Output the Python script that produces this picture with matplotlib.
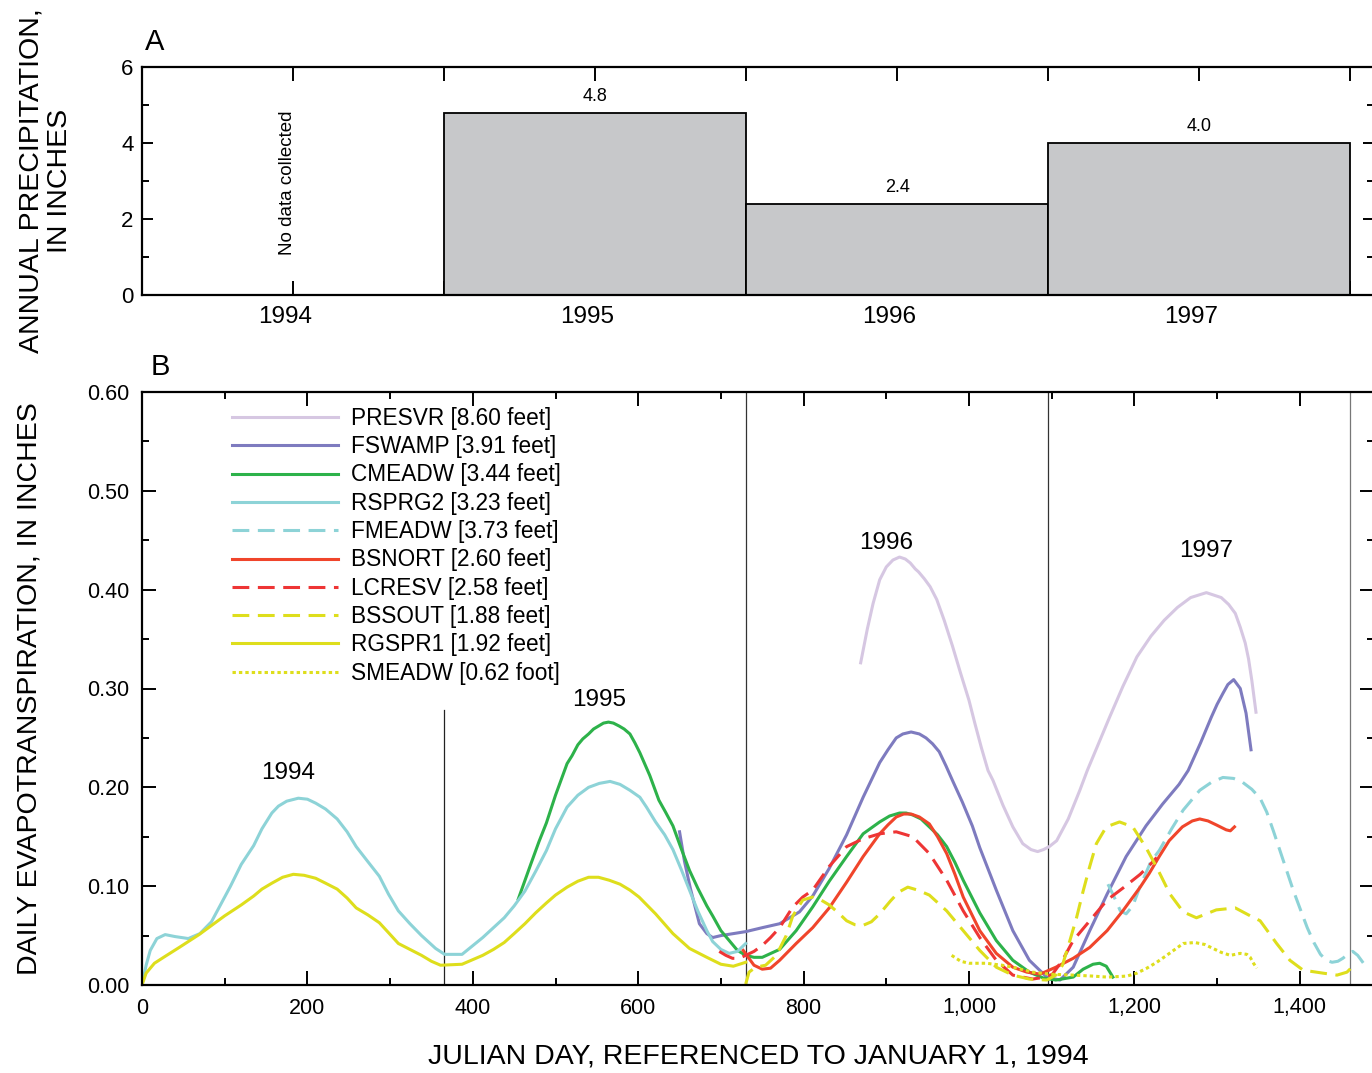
import numpy as np
import matplotlib.pyplot as plt
from matplotlib.ticker import FixedLocator, MultipleLocator, FuncFormatter
from matplotlib.transforms import ScaledTranslation

plt.rcParams['font.family'] = ['Liberation Sans', 'DejaVu Sans']

# ---------------- data ----------------
# panel A: annual precipitation (inches), bars span each year
years = ['1994', '1995', '1996', '1997']
year_start = [0, 365, 730.5, 1096]
year_end = [365, 730.5, 1096, 1461]
precip = [None, 4.8, 2.4, 4.0]

# panel B: daily ET (inches), julian day from Jan 1 1994
rsprg2_day = [0, 5, 10, 18, 28, 40, 56, 70, 84, 107, 120, 135, 145, 157, 165, 175, 189, 200, 210,
              222, 236, 248, 259, 272, 287, 298, 310, 324, 338, 355, 366, 387, 412, 438, 450,
              463, 476, 489, 500, 514, 527, 540, 553, 566, 578, 590, 602, 610, 621, 632, 642,
              652, 662, 672, 683, 690, 700, 710, 720, 730]
rsprg2_val = [0, 0.02, 0.035, 0.047, 0.051, 0.049, 0.047, 0.052, 0.064, 0.100, 0.122, 0.141, 0.158,
              0.174, 0.181, 0.186, 0.189, 0.188, 0.184, 0.178, 0.168, 0.155, 0.140, 0.126, 0.110,
              0.092, 0.075, 0.062, 0.050, 0.037, 0.031, 0.031, 0.048, 0.068, 0.080, 0.095, 0.115,
              0.136, 0.158, 0.180, 0.192, 0.200, 0.204, 0.206, 0.203, 0.197, 0.190, 0.180, 0.165,
              0.152, 0.137, 0.117, 0.096, 0.075, 0.055, 0.044, 0.036, 0.032, 0.034, 0.042]

rgspr1_day = [0, 5, 15, 28, 45, 69, 100, 120, 135, 145, 157, 170, 183, 196, 210, 222, 236, 248,
              259, 273, 287, 298, 310, 324, 338, 350, 361, 387, 412, 425, 438, 450, 463, 476, 489,
              500, 514, 527, 540, 552, 565, 578, 590, 601, 621, 642, 662, 683, 700, 715, 730]
rgspr1_val = [0, 0.012, 0.022, 0.029, 0.038, 0.051, 0.070, 0.081, 0.090, 0.097, 0.103, 0.109,
              0.112, 0.111, 0.108, 0.103, 0.097, 0.088, 0.078, 0.071, 0.063, 0.053, 0.042, 0.036,
              0.030, 0.024, 0.020, 0.021, 0.030, 0.036, 0.043, 0.052, 0.062, 0.073, 0.083, 0.091,
              0.099, 0.105, 0.109, 0.109, 0.106, 0.102, 0.096, 0.089, 0.072, 0.052, 0.037, 0.028,
              0.021, 0.019, 0.023]

cmeadw_day = [455, 470, 480, 489, 500, 507, 514, 520, 527, 533, 540, 546, 552, 558, 564, 570, 577,
              583, 590, 596, 602, 614, 625, 633, 642, 652, 662, 672, 683, 690, 700, 710, 720, 730,
              740, 750, 763, 771, 791, 811, 831, 852, 872, 892, 904, 916, 924, 932, 942, 952, 962,
              973, 983, 993, 1013, 1033, 1053, 1073, 1090, 1105, 1126, 1138, 1150, 1158, 1166,
              1174]
cmeadw_val = [0.087, 0.122, 0.145, 0.164, 0.192, 0.208, 0.224, 0.232, 0.243, 0.249, 0.254, 0.259,
              0.262, 0.265, 0.266, 0.265, 0.262, 0.259, 0.254, 0.245, 0.235, 0.212, 0.187, 0.175,
              0.161, 0.138, 0.116, 0.098, 0.080, 0.070, 0.055, 0.045, 0.035, 0.030, 0.028, 0.028,
              0.033, 0.036, 0.055, 0.079, 0.105, 0.130, 0.153, 0.165, 0.171, 0.174, 0.174, 0.172,
              0.168, 0.160, 0.152, 0.140, 0.124, 0.106, 0.073, 0.045, 0.025, 0.013, 0.007, 0.005,
              0.008, 0.016, 0.021, 0.022, 0.019, 0.008]

fswamp_day = [650, 656, 663, 674, 683, 690, 700, 715, 730, 750, 771, 795, 811, 831, 852, 872, 892,
              902, 912, 920, 930, 940, 948, 956, 964, 972, 980, 992, 1004, 1013, 1033, 1053, 1073,
              1094, 1110, 1126, 1146, 1167, 1190, 1214, 1234, 1254, 1265, 1280, 1293, 1300, 1307,
              1313, 1320, 1328, 1335, 1341]
fswamp_val = [0.155, 0.125, 0.098, 0.062, 0.052, 0.048, 0.050, 0.052, 0.054, 0.058, 0.062, 0.074,
              0.090, 0.118, 0.152, 0.190, 0.225, 0.238, 0.250, 0.254, 0.256, 0.254, 0.250, 0.244,
              0.236, 0.222, 0.207, 0.185, 0.161, 0.139, 0.096, 0.055, 0.025, 0.008, 0.005, 0.018,
              0.055, 0.092, 0.130, 0.161, 0.183, 0.203, 0.217, 0.245, 0.271, 0.284, 0.295, 0.304,
              0.309, 0.300, 0.275, 0.238]

presvr_day = [869, 877, 884, 892, 900, 908, 916, 923, 929, 935, 939, 946, 953, 961, 970, 980, 990,
              1000, 1007, 1015, 1023, 1029, 1041, 1053, 1065, 1075, 1083, 1090, 1097, 1106, 1120,
              1134, 1143, 1156, 1170, 1186, 1203, 1220, 1236, 1252, 1268, 1287, 1305, 1314, 1322,
              1328, 1334, 1338, 1342, 1347]
presvr_val = [0.326, 0.360, 0.386, 0.410, 0.423, 0.430, 0.433, 0.431, 0.427, 0.421, 0.418, 0.411,
              0.403, 0.390, 0.369, 0.343, 0.315, 0.288, 0.265, 0.240, 0.217, 0.207, 0.182, 0.160,
              0.143, 0.137, 0.135, 0.137, 0.140, 0.146, 0.168, 0.197, 0.217, 0.243, 0.271, 0.302,
              0.332, 0.353, 0.369, 0.382, 0.392, 0.397, 0.392, 0.385, 0.376, 0.362, 0.346, 0.330,
              0.308, 0.276]

bsnort_day = [727, 733, 740, 750, 760, 771, 791, 811, 831, 852, 872, 892, 902, 912, 921, 930, 940,
              952, 962, 973, 983, 993, 1013, 1033, 1053, 1070, 1086, 1105, 1126, 1146, 1167, 1186,
              1207, 1218, 1230, 1242, 1258, 1270, 1279, 1289, 1299, 1311, 1316, 1321]
bsnort_val = [0.035, 0.028, 0.020, 0.016, 0.017, 0.025, 0.042, 0.058, 0.078, 0.104, 0.130, 0.153,
              0.162, 0.170, 0.173, 0.173, 0.170, 0.163, 0.150, 0.133, 0.112, 0.089, 0.055, 0.032,
              0.018, 0.013, 0.011, 0.018, 0.027, 0.038, 0.055, 0.075, 0.099, 0.113, 0.130, 0.146,
              0.160, 0.166, 0.168, 0.166, 0.162, 0.157, 0.156, 0.160]

lcresv_day = [698, 706, 714, 722, 730, 740, 750, 760, 771, 787, 799, 811, 831, 852, 872, 892, 912,
              932, 952, 973, 993, 1013, 1033, 1053, 1077, 1092, 1101, 1113, 1126, 1146, 1167,
              1186, 1207, 1218, 1227]
lcresv_val = [0.034, 0.030, 0.027, 0.027, 0.030, 0.034, 0.040, 0.048, 0.058, 0.079, 0.089, 0.096,
              0.120, 0.140, 0.148, 0.153, 0.155, 0.150, 0.133, 0.106, 0.075, 0.048, 0.025, 0.010,
              0.006, 0.008, 0.011, 0.025, 0.045, 0.065, 0.086, 0.098, 0.112, 0.121, 0.129]

bssout_day = [730, 734, 742, 754, 767, 779, 787, 799, 811, 821, 831, 842, 852, 862, 871, 882, 892,
              905, 915, 926, 938, 952, 973, 993, 1013, 1033, 1053, 1073, 1094, 1105, 1113, 1122,
              1130, 1138, 1146, 1154, 1166, 1182, 1198, 1214, 1227, 1243, 1259, 1275, 1299, 1322,
              1340, 1352, 1372, 1388, 1404, 1428, 1445, 1457, 1463]
bssout_val = [0.001, 0.013, 0.018, 0.020, 0.030, 0.050, 0.070, 0.086, 0.089, 0.086, 0.081, 0.073,
              0.065, 0.061, 0.060, 0.064, 0.072, 0.085, 0.094, 0.099, 0.096, 0.091, 0.075, 0.055,
              0.035, 0.018, 0.010, 0.006, 0.005, 0.010, 0.020, 0.045, 0.068, 0.095, 0.120, 0.143,
              0.160, 0.165, 0.160, 0.139, 0.119, 0.092, 0.074, 0.068, 0.076, 0.078, 0.070, 0.065,
              0.042, 0.025, 0.015, 0.012, 0.010, 0.013, 0.018]

fmeadw_day = [1168, 1175, 1183, 1190, 1198, 1207, 1220, 1230, 1245, 1259, 1279, 1293, 1307, 1320,
              1331, 1342, 1352, 1360, 1368, 1380, 1392, 1400, 1409, 1417, 1425, 1432, 1439, 1446,
              1452, 1458, 1464, 1470, 1477]
fmeadw_val = [0.102, 0.090, 0.075, 0.072, 0.080, 0.100, 0.125, 0.136, 0.158, 0.177, 0.197, 0.205,
              0.210, 0.209, 0.205, 0.198, 0.189, 0.175, 0.156, 0.126, 0.096, 0.078, 0.058, 0.043,
              0.031, 0.025, 0.023, 0.024, 0.027, 0.031, 0.034, 0.030, 0.022]

smeadw_day = [979, 990, 1000, 1021, 1040, 1053, 1077, 1097, 1126, 1150, 1167, 1191, 1203, 1215,
              1227, 1239, 1259, 1273, 1285, 1295, 1305, 1316, 1328, 1336, 1340, 1344, 1348]
smeadw_val = [0.030, 0.024, 0.022, 0.022, 0.020, 0.018, 0.013, 0.011, 0.010, 0.009, 0.008, 0.009,
              0.012, 0.017, 0.023, 0.030, 0.042, 0.043, 0.041, 0.037, 0.033, 0.030, 0.032, 0.031,
              0.028, 0.022, 0.017]

# (label, days, values, color, style) in legend order
series = [
    ('PRESVR [8.60 feet]', presvr_day, presvr_val, '#D6C7E2', '-'),
    ('FSWAMP [3.91 feet]', fswamp_day, fswamp_val, '#7E7BBF', '-'),
    ('CMEADW [3.44 feet]', cmeadw_day, cmeadw_val, '#2DB24A', '-'),
    ('RSPRG2 [3.23 feet]', rsprg2_day, rsprg2_val, '#8DD3D7', '-'),
    ('FMEADW [3.73 feet]', fmeadw_day, fmeadw_val, '#8DD3D7', '--'),
    ('BSNORT [2.60 feet]', bsnort_day, bsnort_val, '#F0452B', '-'),
    ('LCRESV [2.58 feet]', lcresv_day, lcresv_val, '#EE3535', '--'),
    ('BSSOUT [1.88 feet]', bssout_day, bssout_val, '#DEDE1C', '--'),
    ('RGSPR1 [1.92 feet]', rgspr1_day, rgspr1_val, '#DEDE1C', '-'),
    ('SMEADW [0.62 foot]', smeadw_day, smeadw_val, '#DEDE1C', ':'),
]

year_mid = [(a + b) / 2 for a, b in zip(year_start, year_end)]
XMAX = 1490

# ---------------- figure ----------------
W, H = 1372, 1073
fig = plt.figure(figsize=(W / 100, H / 100), dpi=100)

def px_axes(left, top, right, bottom):
    return fig.add_axes([left / W, 1 - bottom / H, (right - left) / W, (bottom - top) / H])

x_right = 143.5 + XMAX * 0.826
axA = px_axes(142, 67, x_right, 295)
axB = px_axes(142, 392, x_right, 985)

for ax in (axA, axB):
    for s in ax.spines.values():
        s.set_linewidth(1.6)
    ax.set_xlim(0, XMAX)

# ---- panel A
for i, h in enumerate(precip):
    if h is None:
        continue
    axA.bar(year_start[i], h, width=year_end[i] - year_start[i], align='edge',
            color='#C7C8CA', edgecolor='black', linewidth=1.3, zorder=2)
    axA.text(year_mid[i], h + 0.2, f'{h:.1f}', ha='center', va='bottom', fontsize=13)
axA.text(year_mid[0] - 6, 2.95, 'No data collected', rotation=90, ha='center', va='center',
         fontsize=13.5)
axA.set_ylim(0, 6)
axA.yaxis.set_major_locator(MultipleLocator(2))
axA.yaxis.set_minor_locator(MultipleLocator(1))
axA.xaxis.set_major_locator(FixedLocator(year_mid))
axA.xaxis.set_minor_locator(FixedLocator(year_start[1:] + [year_end[-1]]))
axA.set_xticklabels(years)
axA.tick_params(which='both', direction='in', top=True, right=True, width=1.4)
axA.tick_params(which='major', length=10, labelsize=17.5, pad=8)
axA.tick_params(which='minor', length=10)
axA.tick_params(axis='y', which='major', length=8, pad=6, labelsize=16)
axA.tick_params(axis='y', which='minor', length=5)
shift = ScaledTranslation(-8 / 100, 0, fig.dpi_scale_trans)
for lab in axA.get_xticklabels():
    lab.set_transform(lab.get_transform() + shift)
axA.set_ylabel('ANNUAL PRECIPITATION,\nIN INCHES', fontsize=20.5, linespacing=1.1)
axA.yaxis.set_label_coords(-0.056, 0.5)
axA.text(0.0105, 1.11, 'A', transform=axA.transAxes, fontsize=21, ha='center', va='center')

# ---- panel B
for lab, d, v, c, ls in series:
    line, = axB.plot(d, v, color=c, lw=2.2, label=lab, solid_joinstyle='round',
                     dash_joinstyle='round')
    if ls == '--':
        line.set_dashes((5.5, 2.8))
    elif ls == ':':
        line.set_dashes((1.1, 1.0))

axB.plot([365, 365], [0, 0.278], color='#222222', lw=0.9, zorder=1)
for xb, c in zip(year_end[1:], ['#333333', '#333333', '#777777']):
    axB.axvline(xb, color=c, lw=0.9, zorder=1)

for lab, x, y in zip(years, [177, 553, 900, 1287], [0.215, 0.288, 0.447, 0.439]):
    axB.text(x, y, lab, ha='center', va='center', fontsize=17.5)

axB.set_ylim(0, 0.60)
axB.yaxis.set_major_locator(MultipleLocator(0.1))
axB.yaxis.set_minor_locator(MultipleLocator(0.05))
axB.yaxis.set_major_formatter(FuncFormatter(lambda v, p: f'{v:.2f}'))
axB.xaxis.set_major_locator(MultipleLocator(200))
axB.xaxis.set_minor_locator(MultipleLocator(100))
axB.xaxis.set_major_formatter(FuncFormatter(lambda v, p: f'{int(v):,}'))
axB.tick_params(which='both', direction='in', top=True, right=True, width=1.4)
axB.tick_params(which='major', length=10, labelsize=15.5, pad=9)
axB.tick_params(which='minor', length=5)
axB.set_ylabel('DAILY EVAPOTRANSPIRATION, IN INCHES', fontsize=20.5)
axB.yaxis.set_label_coords(-0.081, 0.5)
axB.set_xlabel('JULIAN DAY, REFERENCED TO JANUARY 1, 1994', fontsize=20.5, labelpad=18)
axB.text(0.0146, 1.042, 'B', transform=axB.transAxes, fontsize=21, ha='center', va='center')

leg = axB.legend(loc='upper left', bbox_to_anchor=(0.073, 0.975), frameon=False, fontsize=16.3,
                 handlelength=4.7, handletextpad=0.57, labelspacing=0.235, borderaxespad=0,
                 borderpad=0)

fig.savefig('out.png', dpi=100)
